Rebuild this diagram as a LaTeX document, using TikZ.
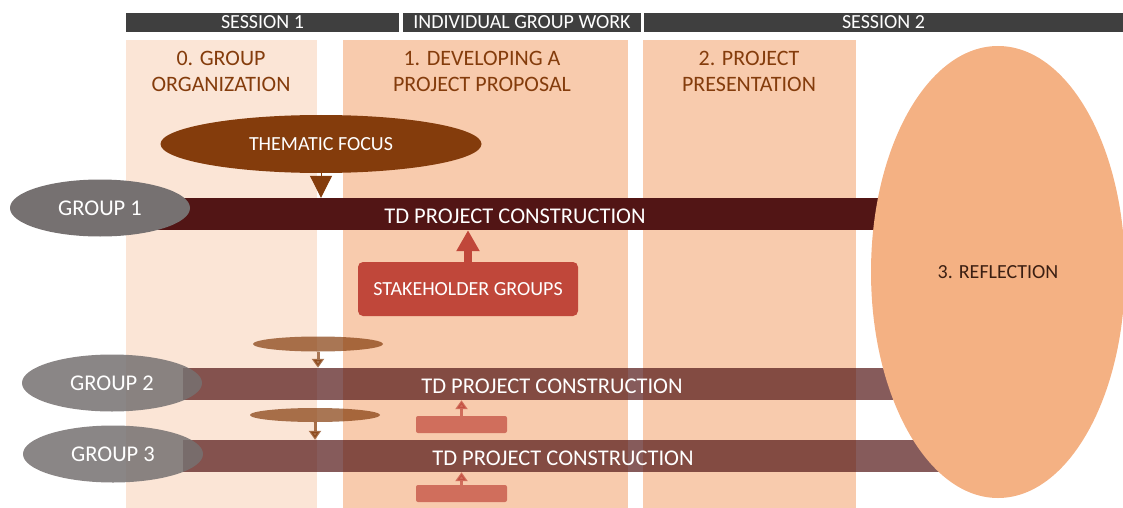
\documentclass[tikz,border=0pt]{standalone}
\usepackage{fontspec}
\setmainfont{Carlito}
\usepackage{tikz}
\usetikzlibrary{arrows.meta}
\usetikzlibrary{shapes.geometric,positioning}

\definecolor{hdrgray}{HTML}{3F3F3F}
\definecolor{paleorange}{HTML}{FBE5D6}
\definecolor{lightorange}{HTML}{F8CBAD}
\definecolor{midorange}{HTML}{F4B183}
\definecolor{darkbrown}{HTML}{843C0C}
\definecolor{wine}{HTML}{521515}
\definecolor{stone}{HTML}{767171}
\definecolor{brick}{HTML}{C0473A}
\definecolor{inkbrown}{HTML}{3B1F12}

\begin{document}
\begin{tikzpicture}[x=1pt,y=-1pt,
        hdr/.style={rectangle,fill=hdrgray,text=white,minimum height=19pt,inner sep=0pt,font=\fontsize{20}{20}\selectfont},
        phase/.style={text=darkbrown,align=center,font=\fontsize{22}{26}\selectfont},
        grp/.style={ellipse,fill=stone,text=white,minimum width=180pt,minimum height=57pt,inner sep=0pt,font=\fontsize{22.5}{24}\selectfont},
        bar/.style={rectangle,fill=wine,text=white,minimum height=32pt,inner sep=0pt,text height=18.5pt,text depth=0pt,font=\fontsize{22.5}{24}\selectfont},
        faded/.style={fill opacity=0.7,text opacity=1},
        focus/.style={ellipse,fill=darkbrown,text=white,inner sep=0pt,font=\fontsize{20}{24}\selectfont},
        stake/.style={rectangle,rounded corners=5pt,fill=brick,text=white,inner sep=0pt,font=\fontsize{20}{24}\selectfont},
        focusarrow/.style={darkbrown,line width=1pt,-{Triangle[width=22pt,length=22pt]}},
        stakearrow/.style={brick,line width=8pt,-{Triangle[width=22pt,length=21pt]}},
        smallarrow/.style={line width=3pt,opacity=0.7,-{Triangle[width=12pt,length=9pt]}}]
		\useasboundingbox (0,0) rectangle (1123,508);
		\fill [paleorange] (126,40) rectangle (317,508);
		\fill [lightorange] (343,40) rectangle (628,508);
		\fill [lightorange] (643,40) rectangle (856,508);
		\node [hdr, minimum width=273pt] (s1) at (262.5, 22.5) {SESSION 1};
		\node [hdr, minimum width=238pt] (igw) at (522, 22.5) {INDIVIDUAL GROUP WORK};
		\node [hdr, minimum width=479pt] (s2) at (883.5, 22.5) {SESSION 2};
		\node [phase] (p0) at (221, 71) {0. GROUP\\ORGANIZATION};
		\node [phase] (p1) at (482, 71) {1. DEVELOPING A\\PROJECT PROPOSAL};
		\node [phase] (p2) at (749, 71) {2. PROJECT\\PRESENTATION};
		\node [bar, minimum width=730pt] (bar1) at (515, 214) {TD PROJECT CONSTRUCTION};
		\node [bar, faded, minimum width=738pt] (bar2) at (552, 384) {TD PROJECT CONSTRUCTION};
		\node [bar, faded, minimum width=760pt] (bar3) at (563, 456) {TD PROJECT CONSTRUCTION};
		\node [grp] (grp1) at (100, 208) {GROUP 1};
		\node [grp, fill opacity=0.85, text opacity=1] (grp2) at (112, 383) {GROUP 2};
		\node [grp, fill opacity=0.85, text opacity=1] (grp3) at (113, 454) {GROUP 3};
		\node [ellipse, fill=midorange, text=inkbrown, minimum width=254pt, minimum height=452pt, inner sep=0pt,
		       font=\fontsize{20}{24}\selectfont] (refl) at (998, 272) {3. REFLECTION};
		\node [focus, minimum width=321pt, minimum height=58pt] (focus1) at (321, 144) {THEMATIC FOCUS};
		\node [focus, faded, minimum width=130pt, minimum height=15pt] (focus2) at (318, 344) {};
		\node [focus, faded, minimum width=130pt, minimum height=14pt] (focus3) at (315, 415) {};
		\node [stake, minimum width=220pt, minimum height=54pt] (stake1) at (468, 289) {STAKEHOLDER GROUPS};
		\node [stake, faded, rounded corners=2pt, minimum width=91pt, minimum height=17pt] (stake2) at (461.5, 424.5) {};
		\node [stake, faded, rounded corners=2pt, minimum width=91pt, minimum height=17pt] (stake3) at (461.5, 493.5) {};
		\draw [focusarrow] (focus1.south) -- (focus1.south |- bar1.north);
		\draw [stakearrow] (stake1.north) -- (stake1.north |- bar1.south);
		\draw [smallarrow, darkbrown] (focus2.south) -- (focus2.south |- bar2.north);
		\draw [smallarrow, darkbrown] (focus3.south) -- (focus3.south |- bar3.north);
		\draw [smallarrow, brick] (stake2.north) -- (stake2.north |- bar2.south);
		\draw [smallarrow, brick] (stake3.north) -- (stake3.north |- bar3.south);
\end{tikzpicture}
\end{document}
